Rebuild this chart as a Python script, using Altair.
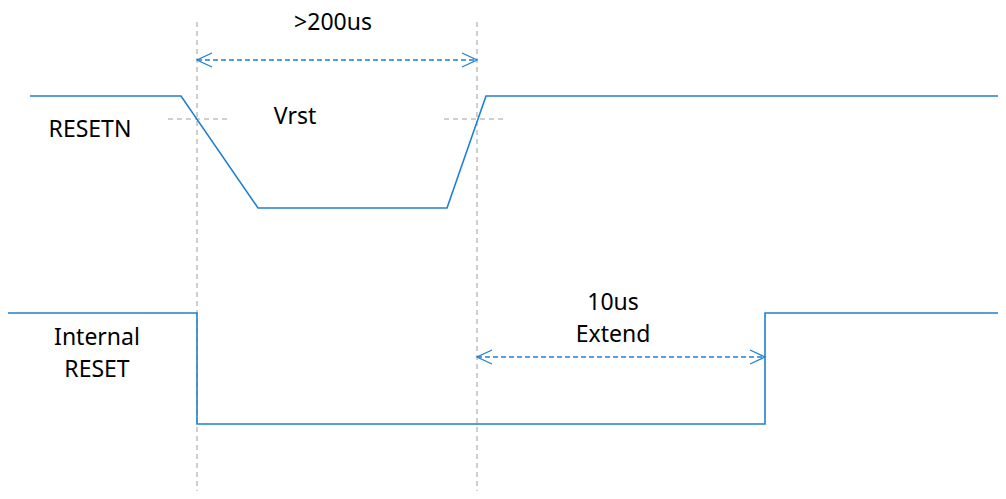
import altair as alt
import pandas as pd

# ---- timing data (time axis in diagram units, signal level in diagram units) ----
resetn_t = [30, 181, 258, 447, 486, 1006]
resetn_level = [96, 96, 208, 208, 96, 96]

internal_t = [8, 197, 197, 765, 765, 1006]
internal_level = [313, 313, 424, 424, 313, 313]

marker_t = [197, 477]          # vertical reference markers
marker_top = 22
marker_bottom = 499

vrst_level = 119               # threshold level
vrst_segments = [(168, 228), (444, 505)]

# dimension arrows: (start, end, level)
arrows = [(197, 477, 60), (477, 765, 357)]

labels = [">200us", "Vrst", "RESETN", "Internal", "RESET", "10us", "Extend"]
label_t = [333, 295, 90, 97, 97, 613, 613]
label_level = [23, 117, 130, 338, 370, 303, 335]

BLUE = "#1f80d0"
GRAY = "#c0c0c0"
HEAD = 15   # arrowhead length
HALF = 7    # arrowhead half-width

xs = alt.Scale(domain=[8, 998], nice=False, zero=False)
ys = alt.Scale(domain=[8, 491], nice=False, zero=False, reverse=True)

def seg_df(rows):
    return pd.DataFrame(rows, columns=["seg", "i", "t", "v"])

# signals
sig_rows = []
for i, (t, v) in enumerate(zip(resetn_t, resetn_level)):
    sig_rows.append(("resetn", i, t, v))
for i, (t, v) in enumerate(zip(internal_t, internal_level)):
    sig_rows.append(("internal", i, t, v))
sig = seg_df(sig_rows)

# gray dashed guides
guide_rows = []
for k, t in enumerate(marker_t):
    guide_rows.append((f"m{k}", 0, t, marker_top))
    guide_rows.append((f"m{k}", 1, t, marker_bottom))
for k, (a, b) in enumerate(vrst_segments):
    guide_rows.append((f"v{k}", 0, a, vrst_level))
    guide_rows.append((f"v{k}", 1, b, vrst_level))
guides = seg_df(guide_rows)

# arrows
shaft_rows, head_rows = [], []
for k, (a, b, lv) in enumerate(arrows):
    shaft_rows.append((f"a{k}", 0, a, lv))
    shaft_rows.append((f"a{k}", 1, b, lv))
    head_rows += [(f"h{k}l", 0, a + HEAD, lv - HALF), (f"h{k}l", 1, a, lv), (f"h{k}l", 2, a + HEAD, lv + HALF)]
    head_rows += [(f"h{k}r", 0, b - HEAD, lv - HALF), (f"h{k}r", 1, b, lv), (f"h{k}r", 2, b - HEAD, lv + HALF)]
shafts = seg_df(shaft_rows)
heads = seg_df(head_rows)

texts = pd.DataFrame({"label": labels, "t": label_t, "v": label_level})

def enc(chart):
    return chart.encode(
        x=alt.X("t:Q", scale=xs, axis=None),
        y=alt.Y("v:Q", scale=ys, axis=None),
        detail="seg:N",
        order="i:Q",
    )

guide_layer = enc(alt.Chart(guides).mark_line(color=GRAY, strokeWidth=1.5, strokeDash=[5, 4], clip=True))
sig_layer = enc(alt.Chart(sig).mark_line(color=BLUE, strokeWidth=1.6, clip=True))
shaft_layer = enc(alt.Chart(shafts).mark_line(color=BLUE, strokeWidth=1.3, strokeDash=[5, 3], clip=True))
head_layer = enc(alt.Chart(heads).mark_line(color=BLUE, strokeWidth=1.3, clip=True))
text_layer = alt.Chart(texts).mark_text(
    font="Noto Sans", fontSize=23, color="#000000", align="center", baseline="middle"
).encode(
    x=alt.X("t:Q", scale=xs, axis=None),
    y=alt.Y("v:Q", scale=ys, axis=None),
    text="label:N",
)

chart = alt.layer(guide_layer, sig_layer, shaft_layer, head_layer, text_layer).properties(
    width=990, height=483, padding=0, background="white"
).configure_view(stroke=None)

chart.save("out.html", embed_options={"renderer": "svg", "actions": False})
